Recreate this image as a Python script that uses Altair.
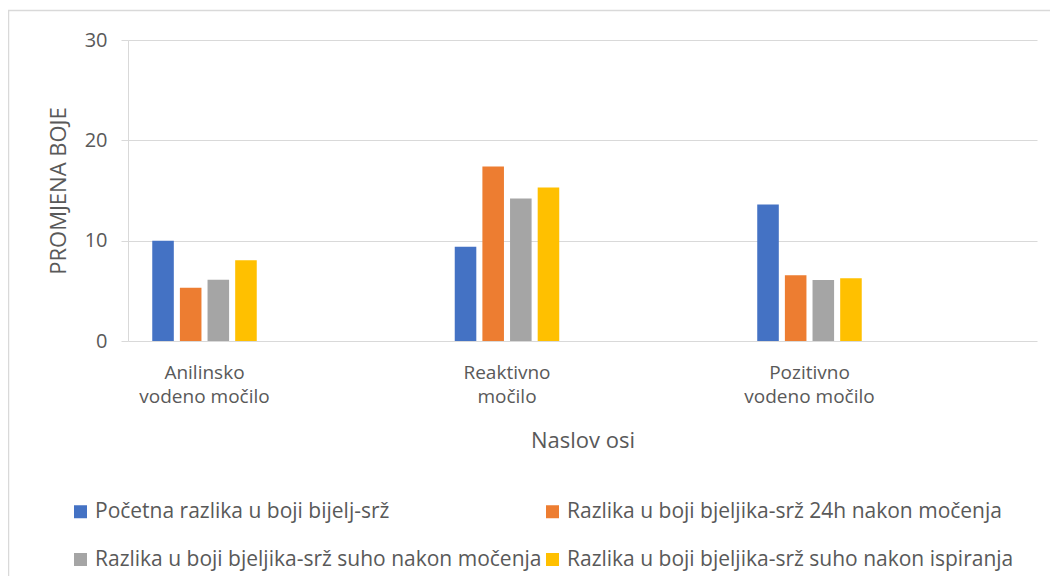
import altair as alt
import pandas as pd

categories = ["Anilinsko vodeno močilo", "Reaktivno močilo", "Pozitivno vodeno močilo"]
series = [
    "Početna razlika u boji bijelj-srž",
    "Razlika u boji bjeljika-srž 24h nakon močenja",
    "Razlika u boji bjeljika-srž suho nakon močenja",
    "Razlika u boji bjeljika-srž suho nakon ispiranja",
]
s1 = [10.0, 9.4, 13.6]
s2 = [5.3, 17.4, 6.55]
s3 = [6.1, 14.2, 6.08]
s4 = [8.05, 15.3, 6.25]
colors = ["#4472C4", "#ED7D31", "#A5A5A5", "#FFC000"]
y_ticks = [0, 10, 20, 30]

rows = []
for s, vals in zip(series, [s1, s2, s3, s4]):
    for c, v in zip(categories, vals):
        rows.append({"cat": c, "series": s, "value": v})
df = pd.DataFrame(rows)

# legend is filled column by column: order entries so rows read s1,s2 / s3,s4
legend_order = [series[0], series[2], series[1], series[3]]
legend_colors = [colors[0], colors[2], colors[1], colors[3]]

FONT = "Open Sans"
TXT = "#595959"
GRID = "#D9D9D9"

label_expr = ("[substring(datum.value, 0, indexof(datum.value, ' ')), "
              "substring(datum.value, indexof(datum.value, ' ') + 1)]")

bars = alt.Chart(df).mark_bar().encode(
    x=alt.X("cat:N", sort=categories, title="Naslov osi",
            scale=alt.Scale(domain=categories, paddingInner=0.4942,
                            paddingOuter=0.2496, align=0),
            axis=alt.Axis(domain=False, ticks=False, grid=False,
                          labelAngle=0, labelExpr=label_expr,
                          labelFont=FONT, labelFontSize=19, labelColor=TXT,
                          labelPadding=22, labelLineHeight=24,
                          titleFont=FONT, titleFontSize=22, titleFontWeight="normal",
                          titleColor=TXT, titleX=454.5, titleY=106,
                          titleAlign="center", titleBaseline="alphabetic")),
    xOffset=alt.XOffset("series:N", sort=series,
                        scale=alt.Scale(domain=series, range=[24.25, 128.75],
                                        paddingInner=0.22, paddingOuter=0)),
    y=alt.Y("value:Q", title="PROMJENA BOJE",
            scale=alt.Scale(domain=[0, 30], nice=False),
            axis=alt.Axis(values=y_ticks, grid=True, gridColor=GRID,
                          domain=True, domainColor=GRID,
                          ticks=True, tickSize=7, tickColor=GRID,
                          labelFont=FONT, labelFontSize=20, labelColor=TXT,
                          labelPadding=14,
                          titleFont=FONT, titleFontSize=22, titleFontWeight="normal",
                          titleColor=TXT, titleAngle=270, titleX=-70, titleY=150.5,
                          titleAlign="center", titleBaseline="middle")),
    color=alt.Color("series:N", sort=legend_order,
                    scale=alt.Scale(domain=legend_order, range=legend_colors),
                    legend=alt.Legend(title=None, orient="none", legendX=-58, legendY=461,
                                      columns=2, columnPadding=0, rowPadding=26,
                                      symbolType="square", symbolSize=169,
                                      symbolStrokeWidth=0, labelFont=FONT,
                                      labelFontSize=21, labelColor=TXT,
                                      labelOffset=4, labelLimit=700, padding=0)),
)

frame = alt.Chart(pd.DataFrame({"k": [0]})).mark_rect(
    fill="white", fillOpacity=0, stroke=GRID, strokeWidth=1.5
).encode(
    x=alt.value(-119.5), x2=alt.value(1000),
    y=alt.value(-29.5), y2=alt.value(700),
)

chart = alt.layer(frame, bars).properties(
    width=909, height=301,
    autosize=alt.AutoSizeParams(type="none"),
    padding={"left": 120, "top": 32, "right": 13, "bottom": 235},
    background="white",
).configure_view(stroke=None)

chart.save("out.html", embed_options={"renderer": "svg", "actions": False})
